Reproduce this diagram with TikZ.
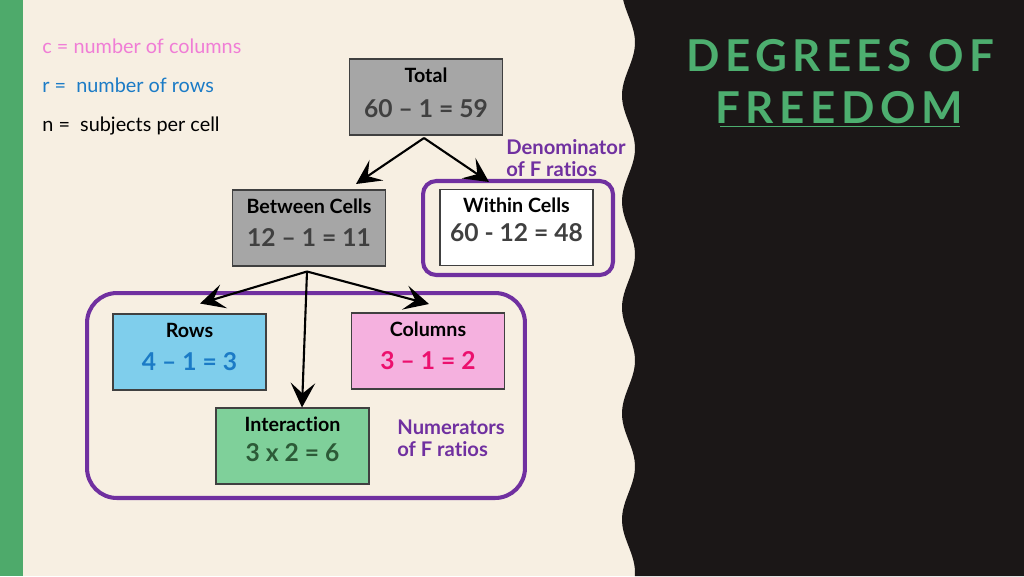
\documentclass[tikz,border=0pt]{standalone}
\usepackage{fontspec}
\setmainfont{Lato}[Ligatures={TeX,NoCommon}]
\usetikzlibrary{arrows.meta}
\definecolor{cream}{HTML}{F7EFE2}
\definecolor{stripe}{HTML}{4EAA6B}
\definecolor{blk}{HTML}{1B1717}
\definecolor{ttlgreen}{HTML}{4DAE6F}
\definecolor{purp}{HTML}{7030A0}
\definecolor{legpink}{HTML}{F07DD6}
\definecolor{legblue}{HTML}{1B7BC6}
\definecolor{graybox}{HTML}{A6A6A6}
\definecolor{boxline}{HTML}{404040}
\definecolor{numgray}{HTML}{404040}
\definecolor{rowfill}{HTML}{7FCEEC}
\definecolor{colfill}{HTML}{F5B1DF}
\definecolor{colnum}{HTML}{EC106E}
\definecolor{intfill}{HTML}{7FD09A}
\definecolor{intnum}{HTML}{2C5A37}
\begin{document}
\begin{tikzpicture}[x=0.02cm,y=-0.02cm,
  box/.style={draw=boxline, line width=0.7pt, minimum width=3.06cm, minimum height=1.52cm, inner sep=0pt},
  ttl/.style={font=\fontsize{11.2}{13}\selectfont\bfseries, text=black, inner sep=0pt},
  num/.style={font=\fontsize{14}{16}\selectfont\bfseries, text=numgray, inner sep=0pt},
  arr/.style={line width=1.2pt, draw=black, -{Stealth[length=14pt,width=14pt,inset=6pt]}},
  frame/.style={draw=purp, line width=2.3pt, inner sep=0pt},
  note/.style={font=\fontsize{11.5}{12.8}\selectfont\bfseries, text=purp, anchor=west, align=left, inner sep=0pt},
  legend/.style={font=\fontsize{11.3}{13}\selectfont, anchor=base west, inner sep=0pt},
  bigttl/.style={font=\fontsize{25}{28}\selectfont\bfseries\addfontfeature{LetterSpace=12.5}, text=ttlgreen, inner sep=0pt}
]
\useasboundingbox (0,0) rectangle (1024,576);
% background
\fill[cream] (0,0) rectangle (1024,576);
\fill[stripe] (0,0) rectangle (23,576);
\fill[blk] (1024,0) -- plot[domain=0:576, samples=140, smooth, variable=\t] ({628.5+6.5*sin((\t-16)*3.3962)},\t) -- (1024,576) -- cycle;

% title
\node[bigttl] (t1) at (840,56) {DEGREES OF};
\node[bigttl] (t2) at (839,108) {FREEDOM};
\draw[ttlgreen, line width=1pt] (720,126.5) -- (960,126.5);

% legend
\node[legend, text=legpink] (lc) at (42,53) {c = number of columns};
\node[legend, text=legblue] (lr) at (42,92.5) {r = ~number of rows};
\node[legend, text=black] (ln) at (42,131) {n = ~subjects per cell};

% frames
\node[frame, rounded corners=7.5pt, minimum width=3.8cm, minimum height=1.88cm] (denframe) at (518,228) {};
\node[frame, rounded corners=17pt, minimum width=8.76cm, minimum height=4.1cm] (numframe) at (306,395.5) {};

% boxes
\node[box, fill=graybox] (total) at (426,97) {};
\node[ttl] (totalT) at (426,75) {Total};
\node[num] (totalN) at (426,109) {60 – 1 = 59};

\node[box, fill=graybox] (between) at (309,228) {};
\node[ttl] (betweenT) at (309,206) {Between Cells};
\node[num] (betweenN) at (309,237) {12 – 1 = 11};

\node[box, fill=white] (within) at (516.5,227.5) {};
\node[ttl] (withinT) at (516.5,205) {Within Cells};
\node[num] (withinN) at (516.5,233) {60 - 12 = 48};

\node[box, fill=rowfill] (rows) at (189.5,352) {};
\node[ttl] (rowsT) at (189.5,330) {Rows};
\node[num, text=legblue] (rowsN) at (189.5,362) {4 – 1 = 3};

\node[box, fill=colfill] (cols) at (428,351) {};
\node[ttl] (colsT) at (428,329) {Columns};
\node[num, text=colnum] (colsN) at (428,361) {3 – 1 = 2};

\node[box, fill=intfill] (inter) at (292.5,446) {};
\node[ttl] (interT) at (292.5,424) {Interaction};
\node[num, text=intnum] (interN) at (292.5,453) {3 x 2 = 6};

% notes
\node[note] (den) at (506,158) {Denominator\\of F ratios};
\node[note] (numer) at (397,438.5) {Numerators\\of F ratios};

% arrows
\coordinate (tb) at (424,138);
\coordinate (bb) at (307,271.5);
\coordinate (toB) at (356,184);
\coordinate (toW) at (489,182);
\coordinate (toR) at (200,303.5);
\coordinate (toC) at (429,304);
\coordinate (toI) at (302,407.5);
\draw[arr] (tb) -- (toB);
\draw[arr] (tb) -- (toW);
\draw[arr] (bb) -- (toR);
\draw[arr] (bb) -- (toC);
\draw[arr] (bb) -- (toI);
\end{tikzpicture}
\end{document}
